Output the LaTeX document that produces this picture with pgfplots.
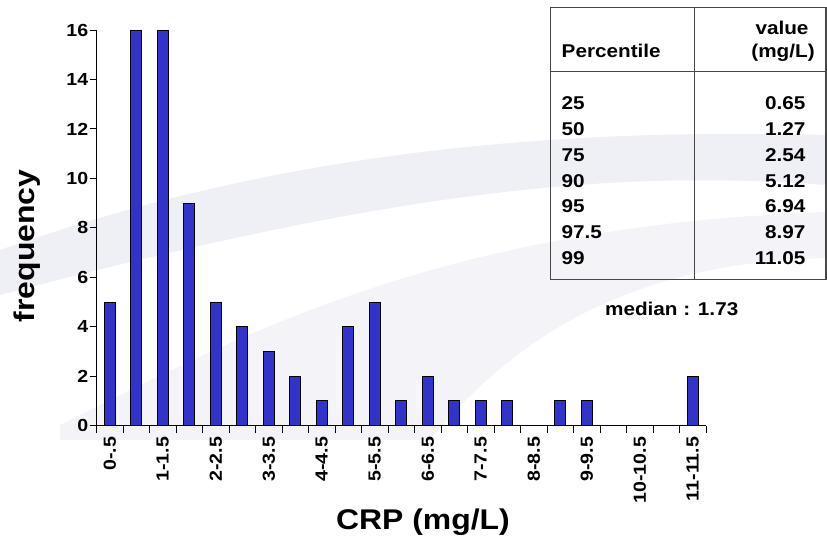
\documentclass[border=0pt]{standalone}
\usepackage{pgfplots}
\pgfplotsset{compat=1.18}
\usepackage{fontspec}
\setmainfont{Liberation Sans}[FakeStretch=1.12]
\definecolor{barblue}{RGB}{51,51,204}
\definecolor{wm}{RGB}{232,232,242}
\definecolor{tabline}{RGB}{70,70,70}
\begin{document}
\begin{tikzpicture}
\path[use as bounding box] (0,0) rectangle (827pt,539pt);
% faint watermark swoosh
\begin{scope}[x=1pt,y=-1pt,yshift=539pt]
\fill[wm,opacity=0.7] (0,250) .. controls (200,180) and (450,125) .. (827,135) -- (827,185) .. controls (600,168) and (380,195) .. (0,295) -- cycle;
\fill[wm,opacity=0.5] (60,425) .. controls (250,330) and (450,225) .. (827,212) -- (827,258) .. controls (640,262) and (520,330) .. (430,440) -- (60,440) -- cycle;
\end{scope}
\begin{axis}[
  at={(96.5pt,113.3pt)}, anchor=south west,
  scale only axis, width=609.5pt, height=395.7pt,
  xmin=-0.5, xmax=22.5, ymin=0, ymax=16,
  axis lines=left, axis line style={-, line width=1pt},
  tick align=outside, major tick length=7pt,
  tick style={line width=1pt, black},
  ytick={0,2,...,16},
  /pgf/number format/assume math mode=true,
  yticklabel style={font=\bfseries\fontsize{17.5}{17.5}\selectfont, inner sep=1pt},
  xtick={-0.5,0.5,...,22.5}, xticklabels={},
  extra x ticks={0,2,4,6,8,10,12,14,16,18,20,22},
  extra x tick labels={0-.5,1-1.5,2-2.5,3-3.5,4-4.5,5-5.5,6-6.5,7-7.5,8-8.5,9-9.5,10-10.5,11-11.5},
  extra x tick style={major tick length=0pt,
    tick label style={rotate=90, anchor=east, font=\bfseries\fontsize{17.5}{17.5}\selectfont, inner sep=1pt, xshift=-10pt}},
  clip=false,
]
\addplot[ybar, bar width=11.4pt, fill=barblue, draw=black, line width=1pt] coordinates {
(0,5) (1,16) (2,16) (3,9) (4,5) (5,4) (6,3) (7,2) (8,1) (9,4) (10,5) (11,1)
(12,2) (13,1) (14,1) (15,1) (16,0) (17,1) (18,1) (19,0) (20,0) (21,0) (22,2)};
\end{axis}
\node[rotate=90, font=\bfseries\fontsize{28.5}{28.5}\selectfont] at (26.7pt,293.2pt) {frequency};
\node[font=\bfseries\fontsize{28.5}{28.5}\selectfont] at (423pt,17pt) {CRP (mg/L)};
\begin{scope}[x=1pt,y=-1pt,yshift=539pt]
\draw[tabline, line width=1.2pt] (550.7,7.3) rectangle (826,279.3);
\draw[tabline, line width=1.2pt] (550.7,71.3) -- (826,71.3);
\draw[tabline, line width=1.2pt] (694.7,7.3) -- (694.7,279.3);
\begin{scope}[every node/.style={font=\bfseries\fontsize{18.5}{22}\selectfont, inner sep=0pt}]
\node[anchor=base west] at (561.5,57.7) {Percentile};
\node[anchor=base] at (782,35) {value};
\node[anchor=base] at (783,57.7) {(mg/L)};
\node[anchor=base west] at (561.3,110) {25};
\node[anchor=base west] at (561.3,135.7) {50};
\node[anchor=base west] at (561.3,161.4) {75};
\node[anchor=base west] at (561.3,187.1) {90};
\node[anchor=base west] at (561.3,212.8) {95};
\node[anchor=base west] at (561.3,238.5) {97.5};
\node[anchor=base west] at (561.3,264.2) {99};
\node[anchor=base east] at (805.7,110) {0.65};
\node[anchor=base east] at (805.7,135.7) {1.27};
\node[anchor=base east] at (805.7,161.4) {2.54};
\node[anchor=base east] at (805.7,187.1) {5.12};
\node[anchor=base east] at (805.7,212.8) {6.94};
\node[anchor=base east] at (805.7,238.5) {8.97};
\node[anchor=base east] at (805.7,264.2) {11.05};
\node[anchor=base] at (671.7,315) {median : 1.73};
\end{scope}
\end{scope}
\end{tikzpicture}
\end{document}
